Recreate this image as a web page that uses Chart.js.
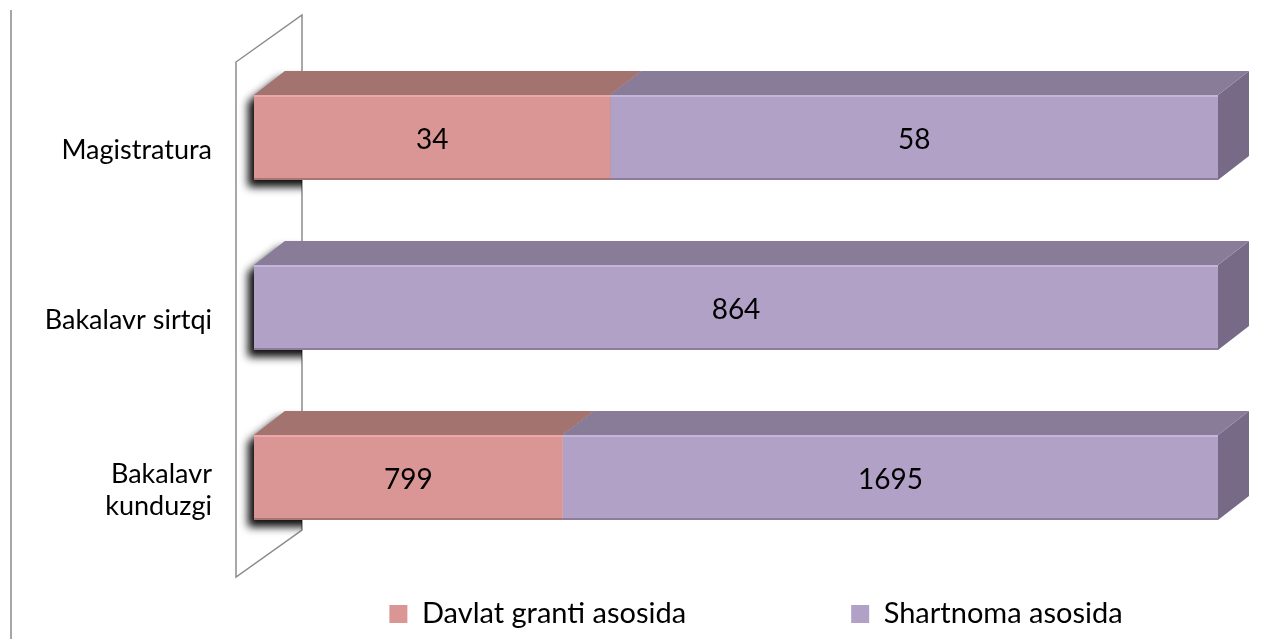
<!DOCTYPE html>
<html>
<head>
<meta charset="utf-8">
<script src="https://cdn.jsdelivr.net/npm/chart.js@4.4.0/dist/chart.umd.min.js"></script>
<style>
  html, body { margin:0; padding:0; background:#fff; }
</style>
</head>
<body>
<canvas id="chart" width="1282" height="639"></canvas>
<script>
// data
const categories = ["Magistratura", "Bakalavr sirtqi", ["Bakalavr", "kunduzgi"]];
const grantValues = [34, 0, 799];
const contractValues = [58, 864, 1695];
const seriesNames = ["Davlat granti asosida", "Shartnoma asosida"];

// 100% stacked -> shares of each row
const totals = grantValues.map((v, i) => v + contractValues[i]);
const grantShare = grantValues.map((v, i) => v / totals[i] * 100);
const contractShare = contractValues.map((v, i) => v / totals[i] * 100);
const rawValues = [grantValues, contractValues];

const FONT = "Lato, 'Open Sans', sans-serif";
const DX = 31, DY = 24;   // depth of the 3d bars
const faces = [
    {front: "#D99694", top: "#A3736F", side: "#8E605D", light: "#EAA8A7"},
    {front: "#B2A1C7", top: "#897C98", side: "#776A87", light: "#C6B5DA"}
];

function barBox(el) {
    const p = el.getProps(["x", "y", "base", "height"], true);
    const left = Math.min(p.x, p.base), right = Math.max(p.x, p.base);
    return {left, right, top: p.y - p.height / 2, bottom: p.y + p.height / 2, cy: p.y};
}

function wallPath(ctx, area) {
    const fx = area.left - 18, bx = fx + 66;
    const fTop = area.top + 9.5, fBot = area.bottom + 14.5;
    ctx.beginPath();
    ctx.moveTo(fx, fTop);
    ctx.lineTo(bx, fTop - 47);
    ctx.lineTo(bx, fBot - 47);
    ctx.lineTo(fx, fBot);
    ctx.closePath();
}

const bar3d = {
    id: "bar3d",
    beforeDatasetsDraw(chart) {
        const ctx = chart.ctx, area = chart.chartArea;
        ctx.save();
        // frame line at the left edge
        ctx.strokeStyle = "#a6a6a6"; ctx.lineWidth = 2;
        ctx.beginPath(); ctx.moveTo(11, 10); ctx.lineTo(11, chart.height); ctx.stroke();

        // side wall
        wallPath(ctx, area);
        ctx.fillStyle = "#fff"; ctx.fill();
        ctx.strokeStyle = "#8c8c8c"; ctx.lineWidth = 1.5; ctx.stroke();

        // shadows of the bars on the wall (shape gets covered by the bar faces)
        ctx.save();
        wallPath(ctx, area); ctx.clip();
        chart.getDatasetMeta(0).data.forEach(el => {
            const b = barBox(el);
            ctx.shadowColor = "rgba(0,0,0,0.95)";
            ctx.shadowBlur = 9; ctx.shadowOffsetX = -6; ctx.shadowOffsetY = 7;
            ctx.fillStyle = "#b0b0b0";
            ctx.beginPath();
            ctx.moveTo(b.left, b.bottom); ctx.lineTo(b.left, b.top);
            ctx.lineTo(b.left + DX, b.top - DY); ctx.lineTo(b.left + 70, b.top - DY);
            ctx.lineTo(b.left + 70, b.bottom);
            ctx.closePath(); ctx.fill();
        });
        ctx.restore();

        // side faces, then top faces
        chart.data.datasets.forEach((ds, d) => {
            chart.getDatasetMeta(d).data.forEach((el, j) => {
                if (!rawValues[d][j]) return;
                const b = barBox(el);
                ctx.fillStyle = faces[d].side;
                ctx.beginPath();
                ctx.moveTo(b.right, b.top); ctx.lineTo(b.right + DX, b.top - DY);
                ctx.lineTo(b.right + DX, b.bottom - DY); ctx.lineTo(b.right, b.bottom);
                ctx.closePath(); ctx.fill();
            });
        });
        chart.data.datasets.forEach((ds, d) => {
            chart.getDatasetMeta(d).data.forEach((el, j) => {
                if (!rawValues[d][j]) return;
                const b = barBox(el);
                ctx.fillStyle = faces[d].top;
                ctx.beginPath();
                ctx.moveTo(b.left, b.top); ctx.lineTo(b.left + DX, b.top - DY);
                ctx.lineTo(b.right + DX, b.top - DY); ctx.lineTo(b.right, b.top);
                ctx.closePath(); ctx.fill();
            });
        });
        ctx.restore();
    },
    afterDatasetsDraw(chart) {
        const ctx = chart.ctx;
        ctx.save();
        chart.data.datasets.forEach((ds, d) => {
            chart.getDatasetMeta(d).data.forEach((el, j) => {
                const v = rawValues[d][j];
                if (!v) return;
                const b = barBox(el);
                // little bevel on the front face
                ctx.fillStyle = faces[d].light;
                ctx.fillRect(b.left, b.top, b.right - b.left, 2);
                ctx.fillStyle = "rgba(0,0,0,0.22)";
                ctx.fillRect(b.left, b.bottom - 2, b.right - b.left, 2);
                // value
                ctx.fillStyle = "#000";
                ctx.font = "28px " + FONT;
                ctx.textAlign = "center"; ctx.textBaseline = "middle";
                ctx.fillText(String(v), (b.left + b.right) / 2, b.cy + 2);
            });
        });
        ctx.restore();
    }
};

// put the legend row where the original has it
const legendPlace = {
    id: "legendPlace",
    afterLayout(chart) {
        const lg = chart.legend;
        const lab = lg.options.labels;
        const shift = 756 - (lg.left + lg.right) / 2;
        lg.left += shift; lg.right += shift;
        lg.top = 614 - lab.padding - Math.max(lab.font.size, lab.boxHeight) / 2;
        lg.bottom = chart.height;
    }
};

new Chart(document.getElementById("chart"), {
    type: "bar",
    data: {
        labels: categories,
        datasets: [
            {label: seriesNames[0], data: grantShare, backgroundColor: faces[0].front, borderWidth: 0},
            {label: seriesNames[1], data: contractShare, backgroundColor: faces[1].front, borderWidth: 0}
        ]
    },
    options: {
        indexAxis: "y",
        responsive: false,
        animation: false,
        events: [],
        layout: {padding: {left: 0, right: 64, top: 52.5, bottom: 75.5}},
        datasets: {bar: {categoryPercentage: 1, barPercentage: 0.5}},
        scales: {
            x: {stacked: true, min: 0, max: 100, display: false},
            y: {
                stacked: true,
                grid: {display: false, drawTicks: false},
                border: {display: false},
                ticks: {color: "#000", padding: 42, labelOffset: 13, font: {family: FONT, size: 27}},
                afterFit: s => { s.width = 254; s.paddingTop = 0; s.paddingBottom = 0; }
            }
        },
        plugins: {
            tooltip: {enabled: false},
            legend: {
                position: "bottom",
                maxHeight: 1,
                labels: {boxWidth: 18, boxHeight: 18, padding: 165, color: "#000", font: {family: FONT, size: 29}}
            }
        }
    },
    plugins: [bar3d, legendPlace]
});
</script>
</body>
</html>
